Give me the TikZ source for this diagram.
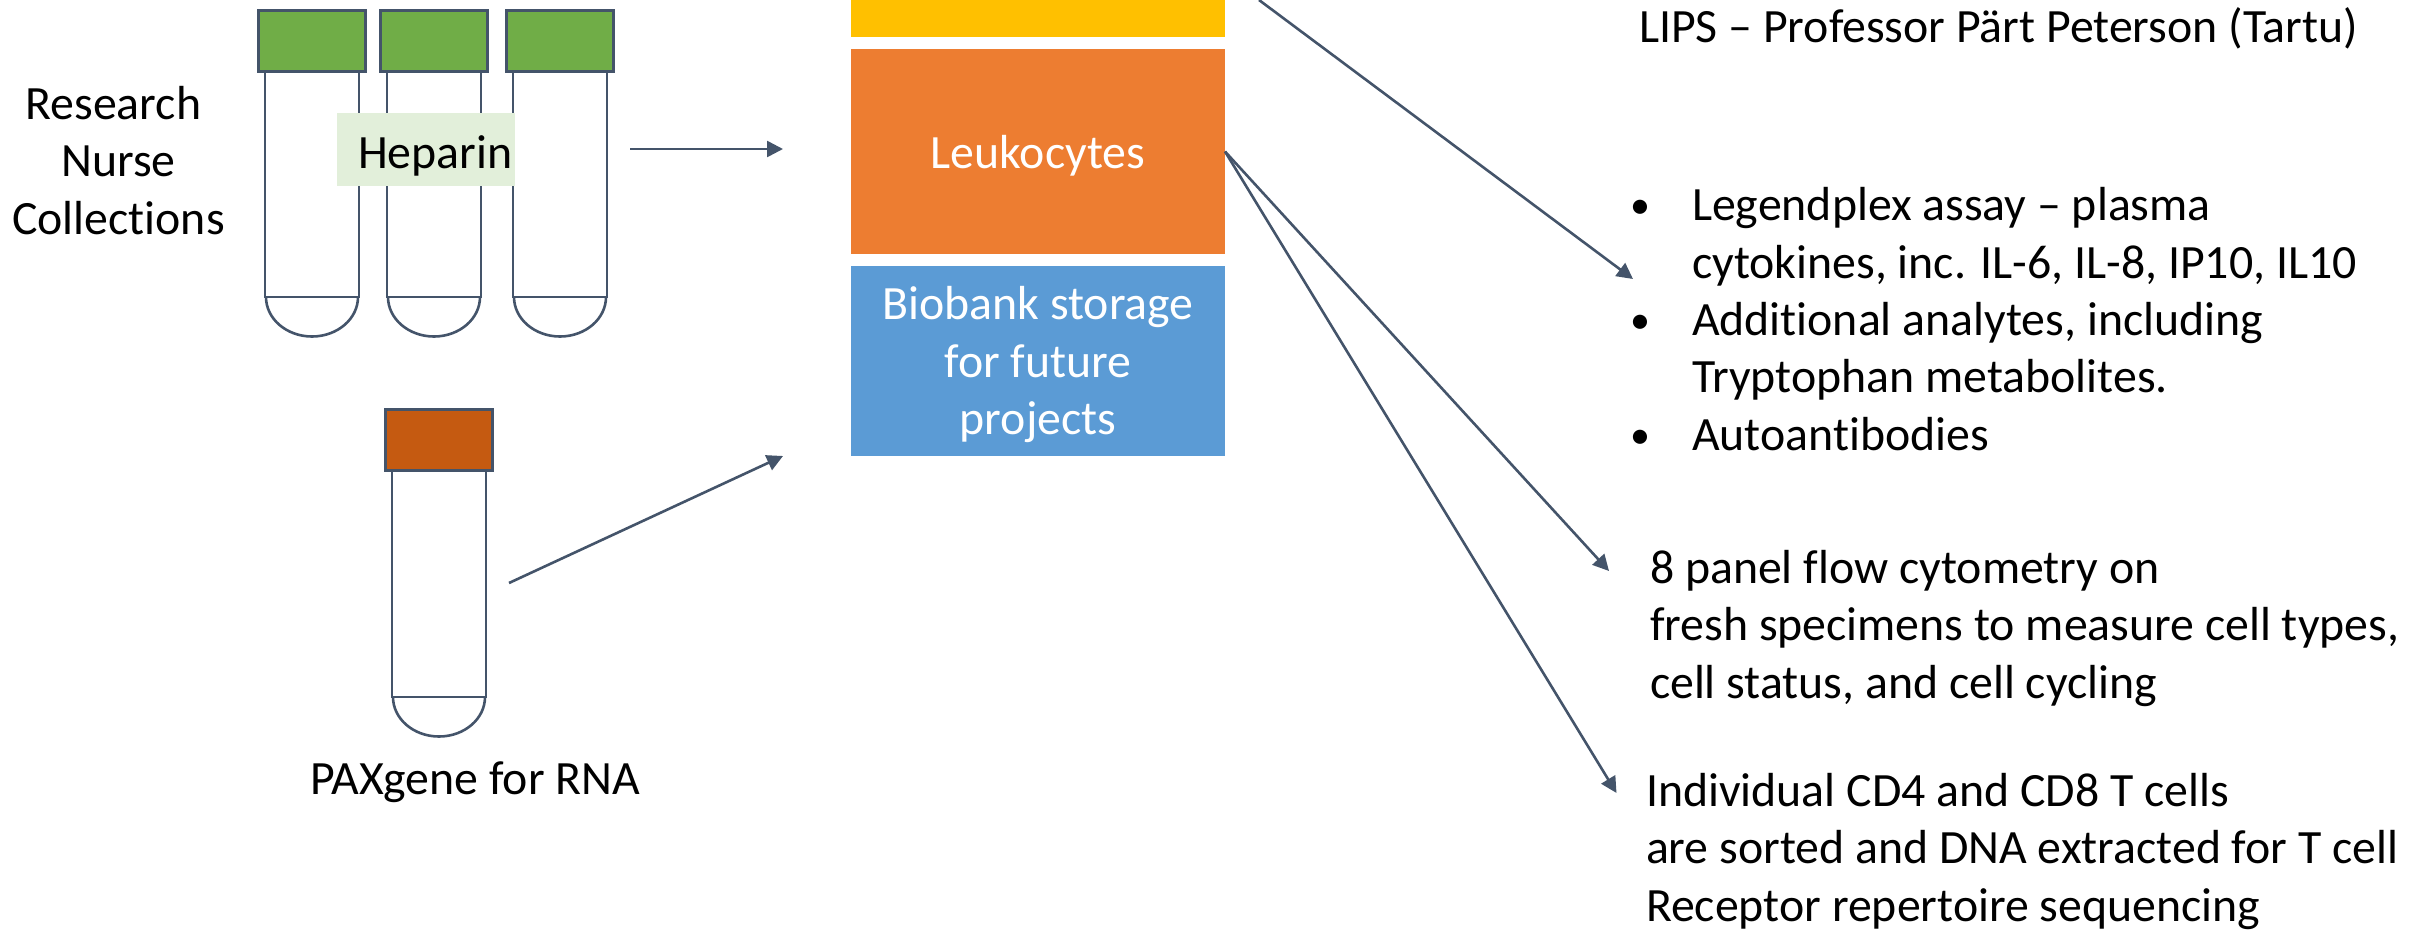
\documentclass[tikz,border=0pt]{standalone}
\usepackage{fontspec}
\setmainfont[RawFeature={-liga}]{Carlito}
\usetikzlibrary{arrows.meta}
\definecolor{lineblue}{HTML}{44546A}
\definecolor{capgreen}{HTML}{70AD47}
\definecolor{caprust}{HTML}{C55A11}
\definecolor{palegreen}{HTML}{E2EFDA}
\definecolor{boxyellow}{HTML}{FFC000}
\definecolor{boxorange}{HTML}{ED7D31}
\definecolor{boxblue}{HTML}{5B9BD5}
\newcommand{\blt}{\llap{\raisebox{2pt}{\fontsize{40}{40}\selectfont\textbullet}\hspace{42pt}}}
\tikzset{
  txt/.style={inner sep=0pt,outer sep=0pt,font=\fontsize{47.8}{57.3}\selectfont,align=left,text=black},
  ctr/.style={txt,align=center},
  band/.style={draw=none,inner sep=0pt,outer sep=0pt,minimum width=374pt,anchor=north west},
  wtxt/.style={txt,align=center,text=white,anchor=base},
  tubeline/.style={draw=lineblue,line width=2.6pt},
  capbox/.style={draw=lineblue,line width=3pt,inner sep=0pt,outer sep=0pt,minimum width=107pt,minimum height=61pt},
  conn/.style={draw=lineblue,line width=2.6pt,-{Triangle[length=16pt,width=16pt]}},
  pics/tube/.style 2 args={code={
    \draw[tubeline,fill=white] (-46,#2) arc[start angle=180,end angle=0,x radius=46,y radius=39.5];
    \draw[tubeline,fill=white] (-47,0) rectangle (47,#2);
    \node[capbox,fill=#1] at (0,-31.5) {};
  }}
}
\begin{document}
\begin{tikzpicture}[x=1pt,y=-1pt]
\useasboundingbox (0,0) rectangle (2432,929);
\pic at (312,72) {tube={capgreen}{225}};
\pic at (434,72) {tube={capgreen}{225}};
\pic at (560,72) {tube={capgreen}{225}};
\pic at (439,471) {tube={caprust}{226}};
\node[inner sep=0pt,outer sep=0pt,fill=palegreen,minimum width=178pt,minimum height=73pt,anchor=north west] (hepbox) at (337,113) {};
\node[txt,anchor=base west] (hep) at (358,168.5) {Heparin};
\node[ctr,anchor=base] (nurse) at (118.5,234) {Research\hspace*{10.4pt}\\Nurse\hspace*{10.4pt}\\Collections};
\node[ctr,anchor=base] (pax) at (475,794) {PAXgene for RNA};
\node[band,fill=boxyellow,minimum height=37pt] (yellow) at (851,0) {};
\node[band,fill=boxorange,minimum height=205pt] (leuk) at (851,49) {};
\node[band,fill=boxblue,minimum height=190pt] (bio) at (851,266) {};
\node[wtxt] (leukt) at (1038,168.5) {Leukocytes};
\node[wtxt] (biot) at (1038,434.5) {Biobank storage\\for future\\projects};
\node[txt,anchor=base west] (lips) at (1639,42) {LIPS – Professor Pärt Peterson (Tartu)};
\node[txt,anchor=base west] (legend) at (1692,450) {\blt Legendplex assay – plasma\\cytokines, inc. IL-6, IL-8, IP10, IL10\\\blt Additional analytes, including\\Tryptophan metabolites.\\\blt Autoantibodies};
\node[txt,anchor=base west] (flow) at (1650,698) {8 panel flow cytometry on\\fresh specimens to measure cell types,\\cell status, and cell cycling};
\node[txt,anchor=base west] (sort) at (1646,921) {Individual CD4 and CD8 T cells\\are sorted and DNA extracted for T cell\\Receptor repertoire sequencing};
\coordinate (a1s) at (630,149);
\coordinate (a1e) at (783,149);
\coordinate (a2s) at (509,583);
\coordinate (a2e) at (783,456);
\coordinate (a3s) at (1259,0);
\coordinate (a3e) at (1633,279);
\coordinate (a4e) at (1609,571);
\coordinate (a5e) at (1616.5,793);
\draw[conn] (a1s) -- (a1e);
\draw[conn] (a2s) -- (a2e);
\draw[conn] (a3s) -- (a3e);
\draw[conn] (leuk.east) -- (a4e);
\draw[conn] (leuk.east) -- (a5e);
\end{tikzpicture}
\end{document}
